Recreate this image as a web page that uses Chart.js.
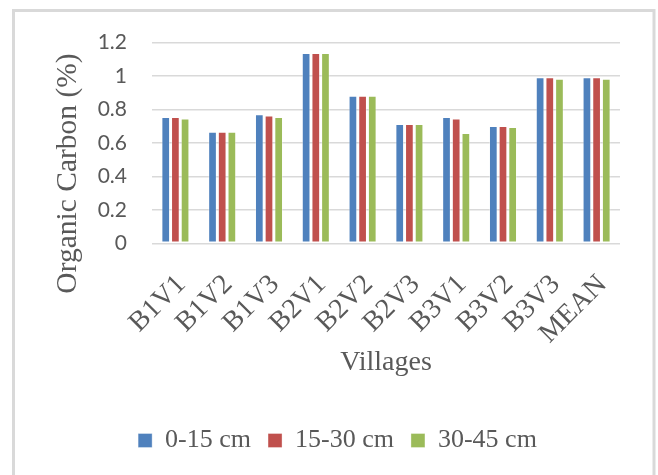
<!DOCTYPE html>
<html>
<head>
<meta charset="utf-8">
<script src="https://cdn.jsdelivr.net/npm/chart.js@4.4.1/dist/chart.umd.min.js"></script>
<style>
  html, body { margin: 0; padding: 0; background: #ffffff; }
  #wrap { position: relative; width: 658px; height: 475px; }
</style>
</head>
<body>
<div id="wrap"><canvas id="chart" width="658" height="475"></canvas></div>
<script>
// Organic carbon (%) by village and soil depth
const villages = ['B1V1', 'B1V2', 'B1V3', 'B2V1', 'B2V2', 'B2V3', 'B3V1', 'B3V2', 'B3V3', 'MEAN'];
const depthLabels = ['0-15 cm', '15-30 cm', '30-45 cm'];
const depth0to15 = [0.755, 0.668, 0.772, 1.138, 0.882, 0.713, 0.755, 0.702, 0.994, 0.994];
const depth15to30 = [0.755, 0.668, 0.764, 1.138, 0.882, 0.713, 0.747, 0.702, 0.994, 0.994];
const depth30to45 = [0.747, 0.668, 0.755, 1.138, 0.882, 0.713, 0.660, 0.695, 0.985, 0.985];
const yTickLabels = ['0', '0.2', '0.4', '0.6', '0.8', '1', '1.2'];
const yTitle = 'Organic Carbon (%)';
const xTitle = 'Villages';

const seriesColors = ['#4f81bd', '#c0504d', '#9bbb59'];
const textColor = '#595959';
const gridColor = '#d9d9d9';
const serif = '"Liberation Serif", "Times New Roman", serif';

// White card with a light grey frame behind the chart
const framePlugin = {
  id: 'frame',
  beforeDraw(chart) {
    const ctx = chart.ctx;
    ctx.save();
    ctx.fillStyle = '#ffffff';
    ctx.fillRect(0, 0, chart.width, chart.height);
    ctx.strokeStyle = '#d9d9d9';
    ctx.lineWidth = 3;
    ctx.strokeRect(13.5, 10.5, 640.5, 520);
    ctx.restore();
  }
};

// Vertical axis title, placed to the left of the value labels
const yTitlePlugin = {
  id: 'yTitle',
  afterDraw(chart) {
    const ctx = chart.ctx;
    const area = chart.chartArea;
    ctx.save();
    ctx.translate(68, area.top + (area.bottom - area.top) / 2 + 30.5);
    ctx.rotate(-Math.PI / 2);
    ctx.font = '29.5px ' + serif;
    ctx.fillStyle = textColor;
    ctx.textAlign = 'center';
    ctx.textBaseline = 'middle';
    ctx.fillText(yTitle, 0, 0);
    ctx.restore();
  }
};

const seriesValues = [depth0to15, depth15to30, depth30to45];

new Chart(document.getElementById('chart'), {
  type: 'bar',
  data: {
    labels: villages,
    datasets: seriesValues.map((vals, i) => ({
      label: depthLabels[i],
      data: vals,
      backgroundColor: seriesColors[i],
      borderColor: 'rgba(255,255,255,0.35)',
      borderWidth: 1,
      borderSkipped: false,
      categoryPercentage: 0.62,
      barPercentage: 0.9
    }))
  },
  plugins: [framePlugin, yTitlePlugin],
  options: {
    responsive: false,
    animation: false,
    devicePixelRatio: 1,
    layout: { padding: { top: 42.7, left: 55, right: 38, bottom: 11.5 } },
    plugins: {
      tooltip: { enabled: false },
      legend: {
        position: 'bottom',
        labels: {
          boxWidth: 14,
          boxHeight: 14,
          padding: 17,
          color: textColor,
          font: { family: serif, size: 26 }
        }
      }
    },
    scales: {
      x: {
        grid: { display: false, drawTicks: false },
        border: { display: false },
        ticks: {
          autoSkip: false,
          minRotation: 45,
          maxRotation: 45,
          padding: 27,
          labelOffset: 6,
          color: textColor,
          font: { family: serif, size: 28, lineHeight: 1 }
        },
        title: {
          display: true,
          text: xTitle,
          color: textColor,
          font: { family: serif, size: 28 },
          padding: { top: 0, bottom: 31 }
        },
        afterFit(scale) { scale.height = 167.2; }
      },
      y: {
        min: 0,
        max: 1.2,
        grid: { color: gridColor, lineWidth: 1.5, drawTicks: false },
        border: { display: false },
        ticks: {
          stepSize: 0.2,
          padding: 25,
          color: textColor,
          font: { family: 'Lato, "Open Sans", sans-serif', size: 21 },
          callback: (v, i) => yTickLabels[i]
        },
        afterFit(scale) { scale.width = 97; }
      }
    }
  }
});
</script>
</body>
</html>
